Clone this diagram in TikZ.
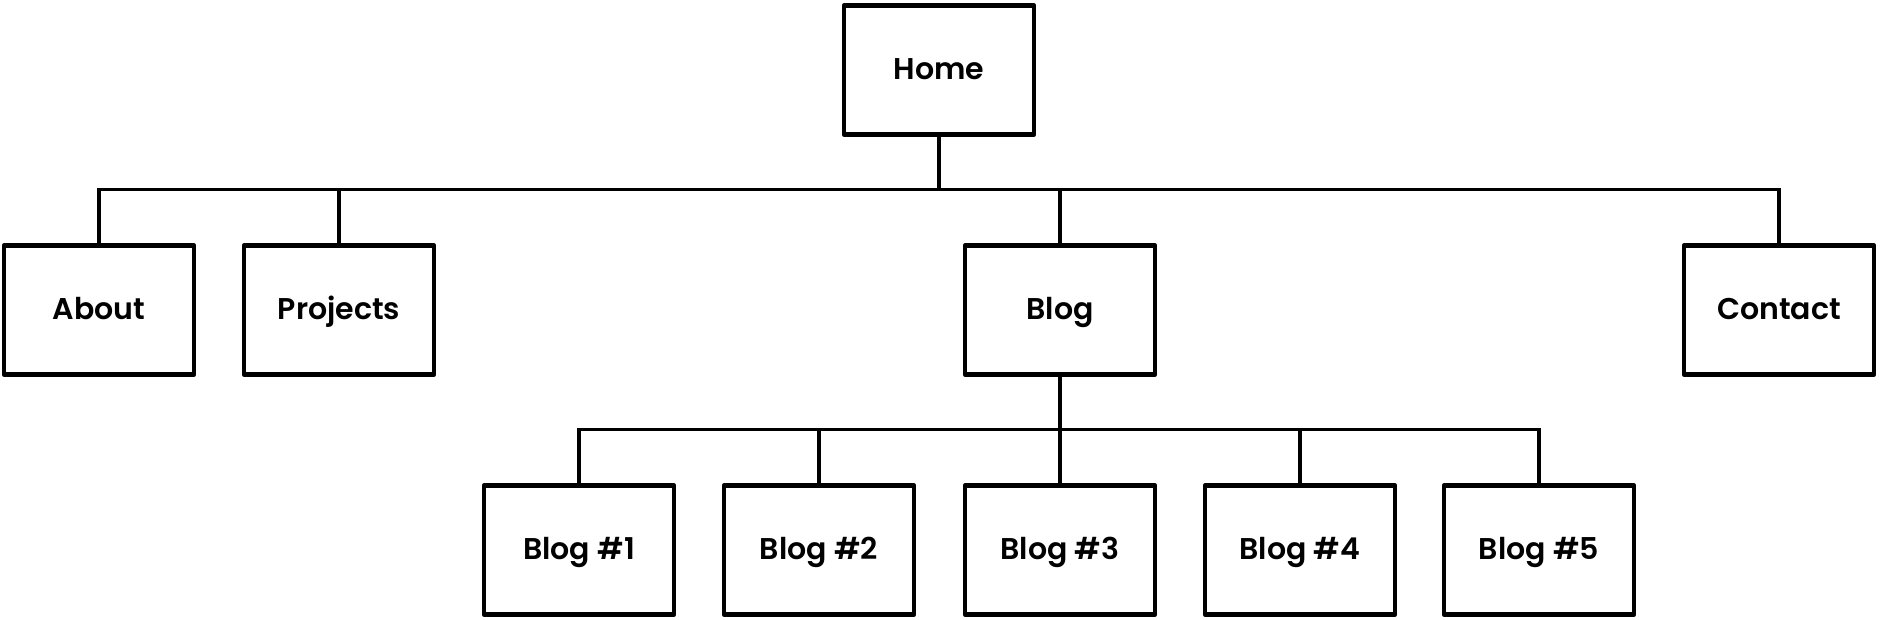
\documentclass[tikz,border=0pt]{standalone}
\usepackage{fontspec}
\setmainfont{Poppins}[UprightFont=* SemiBold]
\begin{document}
\begin{tikzpicture}[x=0.5pt,y=-0.5pt,
  box/.style={draw=black,line width=2.2pt,line join=round,fill=white,
    minimum width=95pt,minimum height=64.5pt,inner sep=0pt,
    text height=9.8pt,text depth=0pt,
    font=\fontsize{15}{18}\selectfont},
  link/.style={draw=black,line width=1.6pt}]
\useasboundingbox (0,0) rectangle (1880,620);
\node[box] (home) at (939,70) {Home};
\node[box] (about) at (99,310) {About};
\node[box] (projects) at (339,310) {Projects};
\node[box] (blog) at (1060,310) {Blog};
\node[box] (contact) at (1779,310) {Contact};
\node[box] (b1) at (579,550) {Blog \#1};
\node[box] (b2) at (819,550) {Blog \#2};
\node[box] (b3) at (1060,550) {Blog \#3};
\node[box] (b4) at (1300,550) {Blog \#4};
\node[box] (b5) at (1539,550) {Blog \#5};
\coordinate (busA) at (939,189.5);
\coordinate (busB) at (1060,429.5);
\draw[link] (home.south) -- (busA);
\draw[link] (about.north) |- (busA);
\draw[link] (contact.north) |- (busA);
\draw[link] (projects.north) -- (projects.north |- busA);
\draw[link] (blog.north) -- (blog.north |- busA);
\draw[link] (blog.south) -- (busB);
\draw[link] (b1.north) |- (busB);
\draw[link] (b5.north) |- (busB);
\draw[link] (b2.north) -- (b2.north |- busB);
\draw[link] (b3.north) -- (busB);
\draw[link] (b4.north) -- (b4.north |- busB);
\end{tikzpicture}
\end{document}
